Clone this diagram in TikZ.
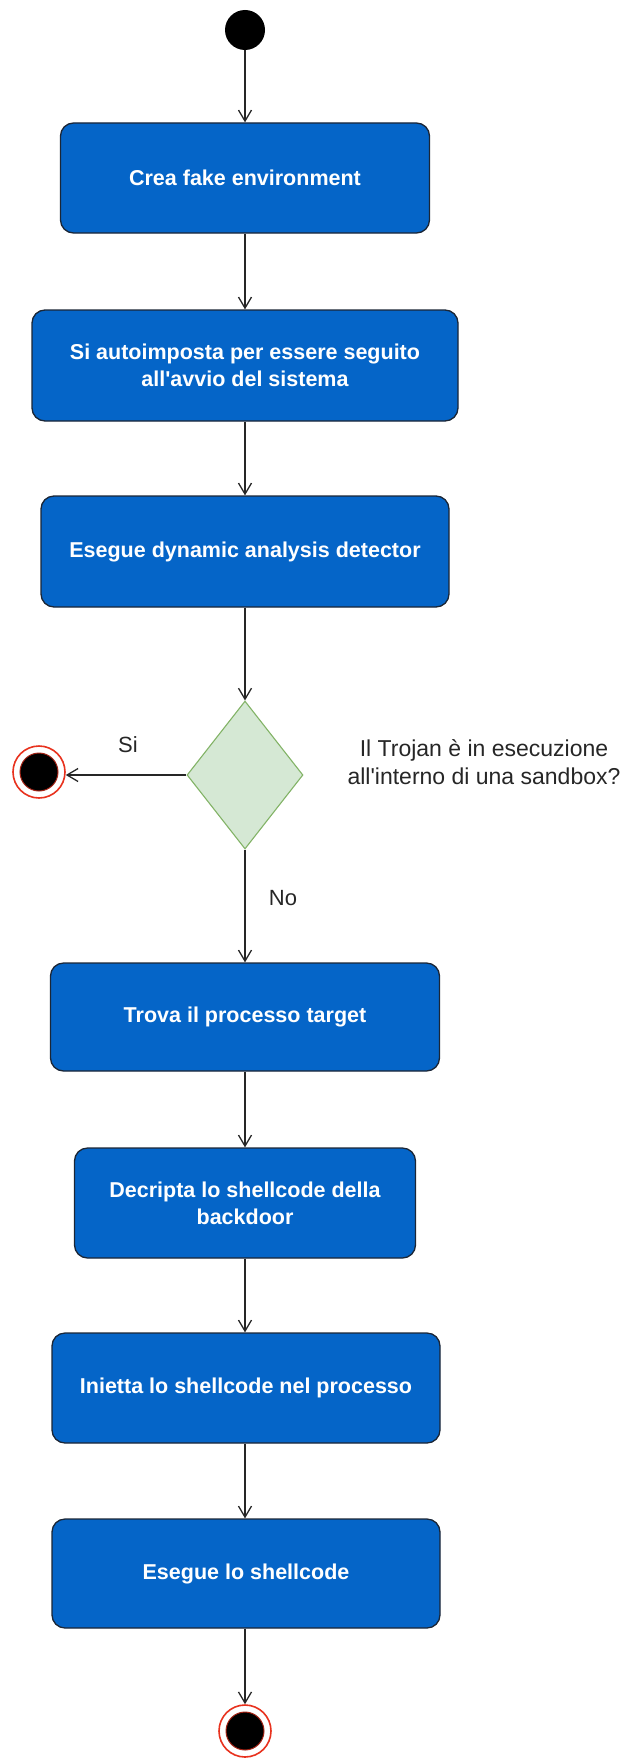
\documentclass[tikz,border=0pt]{standalone}
\usepackage{fontspec}
\setmainfont{Liberation Sans}[Ligatures=TeXOff]
\usetikzlibrary{arrows.meta,shapes.geometric}
\definecolor{actblue}{HTML}{0565C8}
\definecolor{actborder}{HTML}{1B2636}
\definecolor{decfill}{HTML}{D5E8D4}
\definecolor{decdraw}{HTML}{82B366}
\definecolor{endred}{HTML}{E8321E}
\begin{document}
\begin{tikzpicture}[x=1pt,y=-1pt,
  actbox/.style={draw=actborder,line width=1.3pt,fill=actblue,rounded corners=13pt,
    text=white,font=\fontsize{21.5}{27}\selectfont\bfseries,align=center,inner sep=0pt},
  flow/.style={draw=black!85,line width=1.3pt,-{Straight Barb[length=11pt,width=13pt,line width=1.3pt]}},
  lbl/.style={font=\fontsize{22}{28}\selectfont,text=black!85,inner sep=0pt},
  startst/.style={circle,fill=black,minimum size=40pt,inner sep=0pt},
  endouter/.style={circle,draw=endred,line width=1.6pt,fill=white,minimum size=52pt,inner sep=0pt},
  endinner/.style={circle,draw=endred!70!black,line width=1pt,fill=black,minimum size=38pt,inner sep=0pt}
]
\useasboundingbox (0,0) rectangle (625,1758);
\node[startst] (start) at (245,30) {};
\node[actbox,minimum width=369pt,minimum height=110pt] (b1) at (245,178) {Crea fake environment};
\node[actbox,minimum width=426pt,minimum height=111pt] (b2) at (245,365.5) {Si autoimposta per essere seguito\\all'avvio del sistema};
\node[actbox,minimum width=408pt,minimum height=111pt] (b3) at (245,551.5) {Esegue dynamic analysis detector};
\node[diamond,draw=decdraw,line width=1.1pt,fill=decfill,minimum width=116pt,minimum height=148pt,inner sep=0pt] (dec) at (245,775) {};
\node[endouter] (endl) at (39,772) {};
\node[endinner] (endlin) at (endl) {};
\node[lbl] (si) at (128,745) {Si};
\node[lbl,align=center,font=\fontsize{23}{28}\selectfont] (q) at (484,762) {Il Trojan è in esecuzione\\all'interno di una sandbox?};
\node[lbl] (no) at (283,898) {No};
\node[actbox,minimum width=389pt,minimum height=108pt] (b4) at (245,1017) {Trova il processo target};
\node[actbox,minimum width=341pt,minimum height=110pt] (b5) at (245,1203) {Decripta lo shellcode della\\backdoor};
\node[actbox,minimum width=388pt,minimum height=110pt] (b6) at (246,1388) {Inietta lo shellcode nel processo};
\node[actbox,minimum width=388pt,minimum height=109pt] (b7) at (246,1573.5) {Esegue lo shellcode};
\node[endouter] (endb) at (245,1731) {};
\node[endinner] (endbin) at (endb) {};
\draw[flow] (start) -- (b1);
\draw[flow] (b1) -- (b2);
\draw[flow] (b2) -- (b3);
\draw[flow] (b3) -- (dec);
\draw[flow] (dec.west) -- (dec.west-|endl.east);
\draw[flow] (dec) -- (b4);
\draw[flow] (b4) -- (b5);
\draw[flow] (b5.south) -- (b6.north-|b5);
\draw[flow] (b6.south-|b5) -- (b7.north-|b5);
\draw[flow] (b7.south-|b5) -- (endb);
\end{tikzpicture}
\end{document}
